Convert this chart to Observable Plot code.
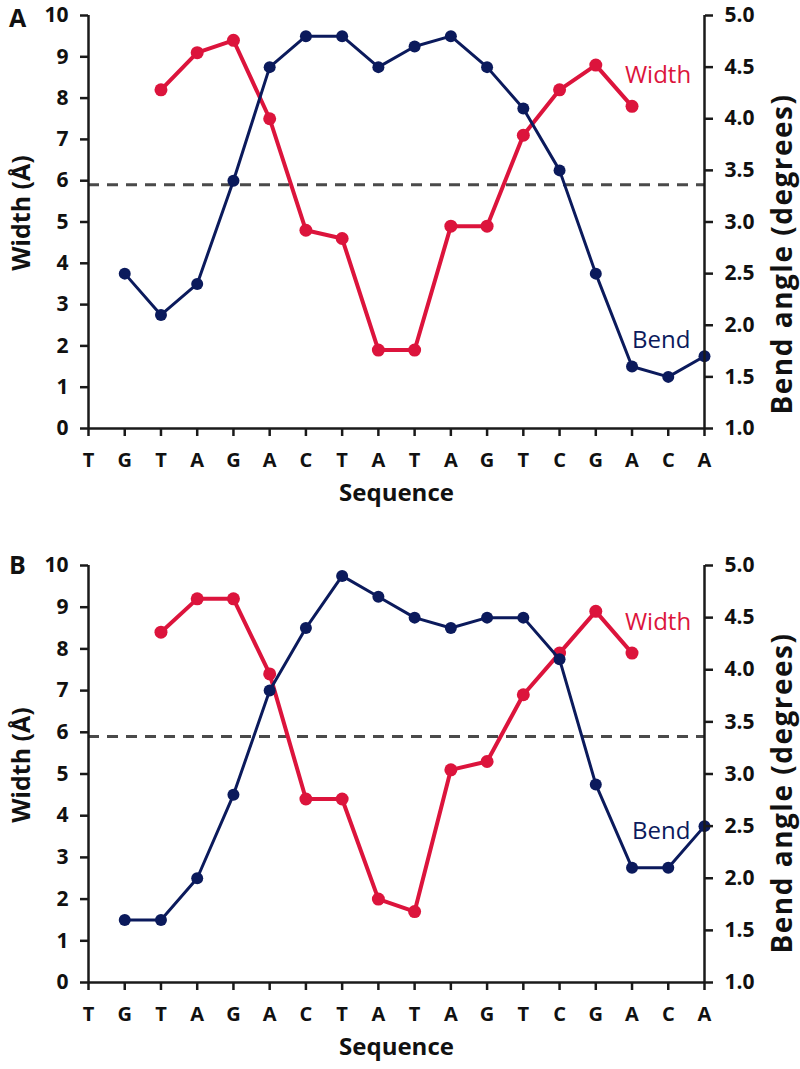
<!DOCTYPE html>
<html>
<head>
<meta charset="utf-8">
<script src="https://cdn.jsdelivr.net/npm/d3@7"></script>
<script src="https://cdn.jsdelivr.net/npm/@observablehq/plot@0.6"></script>
<style>
  body { margin: 0; background: #fff; }
  #chart svg { display: block; }
</style>
</head>
<body>
<div id="chart"></div>
<script>
// Sequence (x categories)
const sequence = ["T","G","T","A","G","A","C","T","A","T","A","G","T","C","G","A","C","A"];

// Width (Å) values, positions 2..15
const widthIdx = [2,3,4,5,6,7,8,9,10,11,12,13,14,15];
const widthA = [8.2, 9.1, 9.4, 7.5, 4.8, 4.6, 1.9, 1.9, 4.9, 4.9, 7.1, 8.2, 8.8, 7.8];
const widthB = [8.4, 9.2, 9.2, 7.4, 4.4, 4.4, 2.0, 1.7, 5.1, 5.3, 6.9, 7.9, 8.9, 7.9];

// Bend angle (degrees) values, positions 1..17
const bendIdx = [1,2,3,4,5,6,7,8,9,10,11,12,13,14,15,16,17];
const bendA = [2.5, 2.1, 2.4, 3.4, 4.5, 4.8, 4.8, 4.5, 4.7, 4.8, 4.5, 4.1, 3.5, 2.5, 1.6, 1.5, 1.7];
const bendB = [1.6, 1.6, 2.0, 2.8, 3.8, 4.4, 4.9, 4.7, 4.5, 4.4, 4.5, 4.5, 4.1, 2.9, 2.1, 2.1, 2.5];

// Axis ticks
const widthTicks = [0,1,2,3,4,5,6,7,8,9,10];
const bendTicks = [1.0,1.5,2.0,2.5,3.0,3.5,4.0,4.5,5.0];
const threshold = 5.9;

// Map bend angle onto the width axis (1.0–5.0 ↔ 0–10)
const bendToW = b => (b - 1) * 2.5;
const wToBend = w => w / 2.5 + 1;

const RED = "#dc143c";
const NAVY = "#0b1a5c";
const INK = "#1a1a1a";
const FONT = "'Open Sans', 'DejaVu Sans', sans-serif";

function panel({letter, widths, bends, height, marginTop, marginBottom, letterDy, rightTitleDy}) {
  const wData = widthIdx.map((i, k) => ({i, v: widths[k]}));
  const bData = bendIdx.map((i, k) => ({i, v: bendToW(bends[k])}));
  const lastW = wData[wData.length - 1];
  const bendAnchor = bData[bData.length - 2];
  const svg = Plot.plot({
    width: 800,
    height,
    marginLeft: 88,
    marginRight: 96,
    marginTop,
    marginBottom,
    x: {domain: [0, 17]},
    y: {domain: [0, 10]},
    style: {fontFamily: FONT, color: INK, background: "#fff", overflow: "visible"},
    marks: [
      Plot.ruleY([threshold], {stroke: "#4a4a4a", strokeWidth: 3, strokeDasharray: "11,8"}),
      Plot.line(wData, {x: "i", y: "v", stroke: RED, strokeWidth: 4}),
      Plot.dot(wData, {x: "i", y: "v", r: 6.5, fill: RED}),
      Plot.line(bData, {x: "i", y: "v", stroke: NAVY, strokeWidth: 3}),
      Plot.dot(bData, {x: "i", y: "v", r: 6, fill: NAVY}),
      Plot.ruleX([0], {stroke: INK, strokeWidth: 2.5}),
      Plot.ruleX([17], {stroke: INK, strokeWidth: 2.5}),
      Plot.ruleY([0], {stroke: INK, strokeWidth: 2.5}),
      Plot.axisY({anchor: "left", ticks: widthTicks, tickSize: 8, tickPadding: 12, strokeWidth: 2.5, stroke: INK,
        fontSize: 21, fontWeight: "bold", fill: "#111", label: null}),
      Plot.axisY({anchor: "right", ticks: bendTicks.map(bendToW), tickFormat: w => wToBend(w).toFixed(1),
        tickSize: 8, tickPadding: 12, strokeWidth: 2.5, stroke: INK, fontSize: 21, fontWeight: "bold", fill: "#111", label: null}),
      Plot.axisX({anchor: "bottom", ticks: d3.range(sequence.length), tickFormat: i => sequence[i],
        tickSize: 8, tickPadding: 16, strokeWidth: 2.5, stroke: INK, fontSize: 20, fontWeight: "bold", fill: "#111", label: null}),
      Plot.text(["Width (Å)"], {frameAnchor: "left", textAnchor: "middle", dx: -67, dy: -9, rotate: -90,
        fontSize: 25, fontWeight: "bold", fill: "#111"}),
      Plot.text(["Bend angle (degrees)"], {frameAnchor: "right", textAnchor: "middle", dx: 79, dy: rightTitleDy, rotate: -90,
        fontSize: 28, fontWeight: "bold", fill: "#111", className: "bend-title"}),
      Plot.text(["Sequence"], {frameAnchor: "bottom", textAnchor: "middle", dy: 72, fontSize: 24, fontWeight: "bold", fill: "#111"}),
      Plot.text([letter], {frameAnchor: "top-left", textAnchor: "middle", lineAnchor: "top", dx: -71, dy: letterDy,
        fontSize: 25, fontWeight: "bold", fill: "#111"}),
      Plot.text([lastW], {x: "i", y: "v", text: () => "Width", dx: 26, dy: -31, fill: RED, fontSize: 24}),
      Plot.text([bendAnchor], {x: "i", y: "v", text: () => "Bend", dx: -7, dy: -37, fill: NAVY, fontSize: 24})
    ]
  });
  svg.querySelectorAll(".bend-title text").forEach(t => t.setAttribute("letter-spacing", "1.5"));
  return svg;
}

const el = document.getElementById("chart");
el.append(panel({letter: "A", widths: widthA, bends: bendA, height: 534, marginTop: 15, marginBottom: 106, letterDy: -6, rightTitleDy: 32}));
el.append(panel({letter: "B", widths: widthB, bends: bendB, height: 535, marginTop: 31, marginBottom: 87, letterDy: -9, rightTitleDy: 19}));
</script>
</body>
</html>
